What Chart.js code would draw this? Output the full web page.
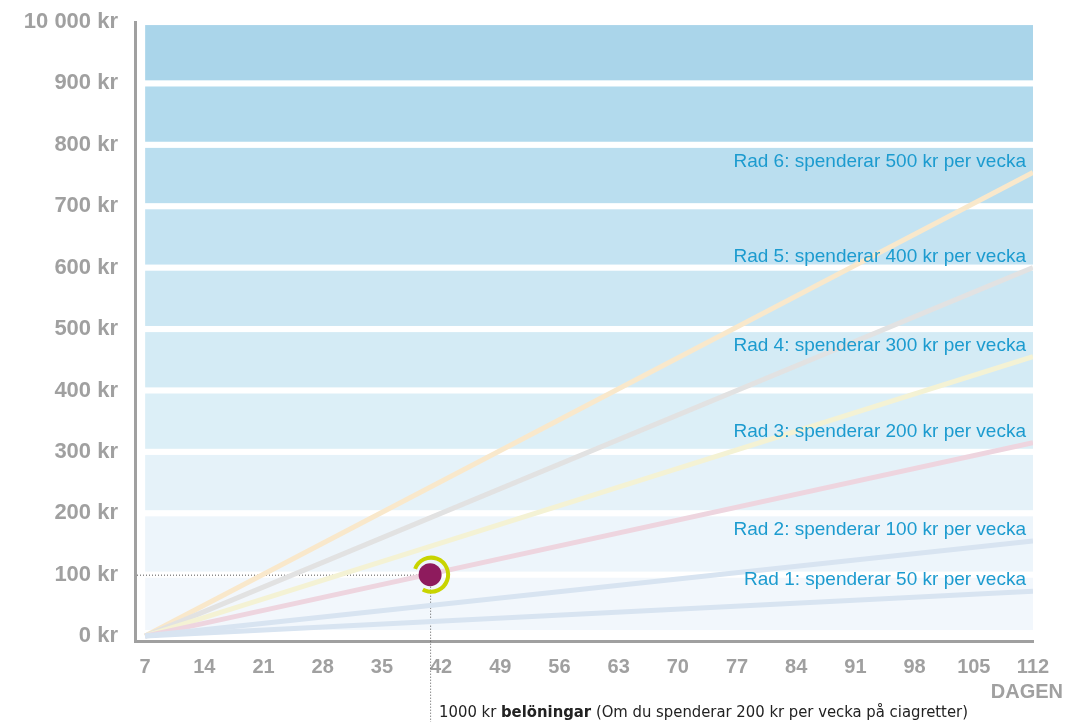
<!DOCTYPE html>
<html>
<head>
<meta charset="utf-8">
<script src="https://cdn.jsdelivr.net/npm/chart.js@4/dist/chart.umd.min.js"></script>
<style>
  html, body { margin: 0; background: #fff; }
  #wrap { width: 1068px; height: 722px; }
</style>
</head>
<body>
<div id="wrap"><canvas id="chart"></canvas></div>
<script>
// dagar (start och slut av varje linje)
const days = [7, 112];
// sparade pengar per rad (kr)
const rad1 = [0, 730];
const rad2 = [0, 1550];
const rad3 = [0, 3150];
const rad4 = [0, 4550];
const rad5 = [0, 6000];
const rad6 = [0, 7550];
const seriesNames = [
  "Rad 1: spenderar 50 kr per vecka",
  "Rad 2: spenderar 100 kr per vecka",
  "Rad 3: spenderar 200 kr per vecka",
  "Rad 4: spenderar 300 kr per vecka",
  "Rad 5: spenderar 400 kr per vecka",
  "Rad 6: spenderar 500 kr per vecka"
];
const lineColors = ["#d8e4f1", "#d8e4f1", "#eed5df", "#f4f2d4", "#e2e2e2", "#f9e8cb"];
const xTicks = [7, 14, 21, 28, 35, 42, 49, 56, 63, 70, 77, 84, 91, 98, 105, 112];
const yTicks = [0, 1000, 2000, 3000, 4000, 5000, 6000, 7000, 8000, 9000, 10000];
const yLabels = ["0 kr", "100 kr", "200 kr", "300 kr", "400 kr", "500 kr", "600 kr", "700 kr", "800 kr", "900 kr", "10 000 kr"];
// band colours, bottom to top
const bandColors = ["#f2f7fc", "#edf5fb", "#e5f2f9", "#dceff7", "#d4ebf5", "#cce7f3", "#c4e3f2", "#badeef", "#b2daed", "#aad5ea"];
const marker = { x: 40.7, y: 1000 };

const grey = "#a0a0a0";

const bgPlugin = {
  id: "bands",
  beforeDatasetsDraw(chart) {
    const { ctx, scales: { x, y } } = chart;
    const x0 = x.getPixelForValue(7), x1 = x.getPixelForValue(112);
    ctx.save();
    for (let k = 0; k < bandColors.length; k++) {
      const top = y.getPixelForValue(yTicks[k + 1] - 50);
      const bot = y.getPixelForValue(yTicks[k] + (k === 0 ? 100 : 50));
      ctx.fillStyle = bandColors[k];
      ctx.fillRect(x0, top, x1 - x0, bot - top);
    }
    // dotted guide lines to the marker
    const px = x.getPixelForValue(marker.x), py = y.getPixelForValue(marker.y);
    ctx.strokeStyle = "#555";
    ctx.lineWidth = 1;
    ctx.setLineDash([1, 2]);
    ctx.beginPath();
    ctx.moveTo(chart.chartArea.left + 2, py + 0.5);
    ctx.lineTo(px, py + 0.5);
    ctx.moveTo(px + 0.5, py);
    ctx.lineTo(px + 0.5, chart.height);
    ctx.stroke();
    ctx.restore();
  },
  afterDatasetsDraw(chart) {
    const { ctx, chartArea } = chart;
    ctx.save();
    ctx.font = "19px 'Liberation Sans', Arial, sans-serif";
    ctx.fillStyle = "#1c9bcf";
    ctx.textAlign = "right";
    ctx.textBaseline = "middle";
    for (let i = 1; i <= 6; i++) {
      const pts = chart.getDatasetMeta(i).data;
      const p = pts[pts.length - 1];
      ctx.fillText(seriesNames[i - 1], p.x - 7, p.y - 11);
    }
    // ring around the marker
    const m = chart.getDatasetMeta(0).data[0];
    ctx.strokeStyle = "#c8d400";
    ctx.lineWidth = 4;
    ctx.beginPath();
    ctx.arc(m.x + 1, m.y, 17, -160 * Math.PI / 180, 119 * Math.PI / 180);
    ctx.stroke();

    // DAGEN
    ctx.font = "bold 20px 'Liberation Sans', Arial, sans-serif";
    ctx.fillStyle = grey;
    ctx.textAlign = "right";
    ctx.fillText("DAGEN", chartArea.right + 30, 692);

    // note under the chart
    ctx.textAlign = "left";
    ctx.fillStyle = "#222";
    const parts = [
      ["1000 kr ", "normal"],
      ["belöningar", "bold"],
      [" (Om du spenderar 200 kr per vecka på ciagretter)", "normal"]
    ];
    let tx = m.x + 9;
    for (const [t, w] of parts) {
      ctx.font = w + " 16.5px 'DejaVu Sans Condensed', sans-serif";
      ctx.fillText(t, tx, 713);
      tx += ctx.measureText(t).width;
    }
    ctx.restore();
  }
};

const lineData = [rad1, rad2, rad3, rad4, rad5, rad6];
const datasets = [{
  type: "scatter",
  data: [marker],
  backgroundColor: "#8e1b5d",
  borderWidth: 0,
  pointRadius: 11.5,
  order: -1
}];
lineData.forEach((vals, i) => {
  datasets.push({
    label: seriesNames[i],
    data: vals.map((v, j) => ({ x: days[j], y: v })),
    borderColor: lineColors[i],
    borderWidth: 5,
    borderCapStyle: "butt",
    pointRadius: 0,
    tension: 0,
    fill: false
  });
});

new Chart(document.getElementById("chart"), {
  type: "line",
  data: { datasets },
  options: {
    responsive: true,
    maintainAspectRatio: false,
    animation: false,
    layout: { padding: { top: 22, right: 35, left: 0, bottom: 0 } },
    plugins: { legend: { display: false }, tooltip: { enabled: false } },
    scales: {
      x: {
        type: "linear",
        min: 5.8,
        max: 112,
        afterBuildTicks: s => { s.ticks = xTicks.map(v => ({ value: v })); },
        afterFit: s => { s.height = 81; },
        grid: { display: false, drawTicks: false },
        border: { color: grey, width: 3 },
        ticks: {
          autoSkip: false,
          maxRotation: 0,
          padding: 14,
          color: grey,
          font: { family: "'Liberation Sans', Arial, sans-serif", size: 20, weight: "bold" }
        }
      },
      y: {
        min: -80,
        max: 10000,
        afterBuildTicks: s => { s.ticks = yTicks.map(v => ({ value: v })); },
        afterFit: s => { s.width = 135; s.paddingTop = 0; s.paddingBottom = 0; },
        grid: { display: false, drawTicks: false },
        border: { color: grey, width: 3 },
        ticks: {
          padding: 17,
          color: grey,
          font: { family: "'Liberation Sans', Arial, sans-serif", size: 22, weight: "bold" },
          callback: v => yLabels[yTicks.indexOf(v)]
        }
      }
    }
  },
  plugins: [bgPlugin]
});
</script>
</body>
</html>
